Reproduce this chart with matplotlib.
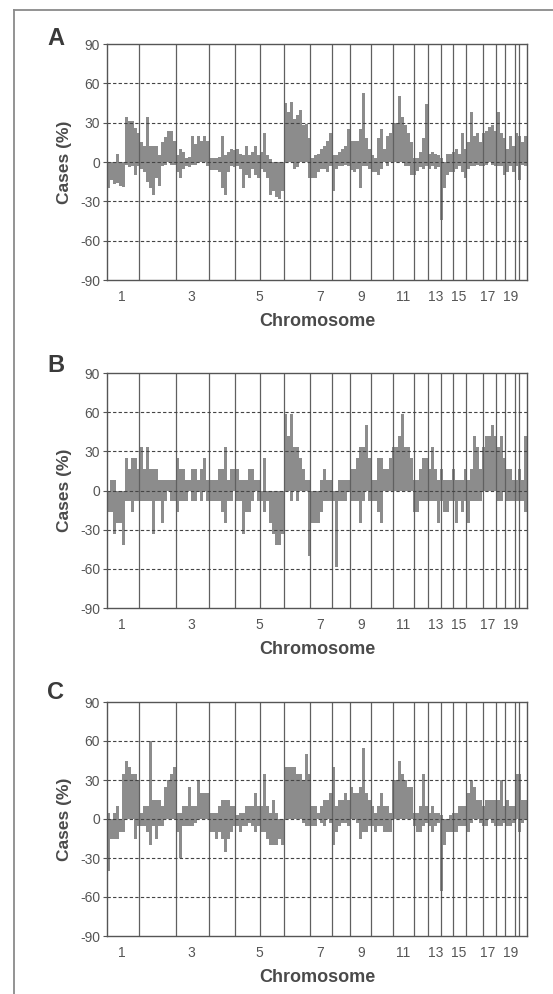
import numpy as np
import matplotlib
matplotlib.use("Agg")
import matplotlib.pyplot as plt
from matplotlib.lines import Line2D

plt.rcParams['font.family'] = ['Liberation Sans', 'DejaVu Sans']
plt.rcParams['axes.unicode_minus'] = False

# probe-bin index runs 0..140 along the genome
chrom_edges = [10.8, 22.9, 34.0, 42.6, 51.0, 59.1, 67.8, 75.0, 81.1, 87.9,
               95.3, 102.2, 107.0, 111.2, 115.4, 119.8, 125.2, 129.6, 132.7,
               136.1, 137.4]
tick_pos = [5.1, 28.2, 50.7, 71.0, 84.7, 98.7, 109.7, 117.3, 127.0, 134.7]
tick_labels = ['1', '3', '5', '7', '9', '11', '13', '15', '17', '19']

# panel A: % cases with gain / loss per bin
gain_a = [0, 0, 0, 6, 0, 0, 34, 31, 31, 26,
          22, 15, 12, 34, 12, 12, 12, 5, 15, 19,
          24, 24, 16, 5, 10, 8, 3, 4, 20, 14,
          20, 16, 20, 16, 3, 3, 3, 4, 20, 5,
          8, 10, 9, 10, 6, 5, 12, 5, 8, 12,
          5, 8, 22, 5, 2, 0, 0, 0, 0, 45,
          38, 46, 33, 36, 40, 28, 29, 18, 3, 5,
          6, 10, 12, 16, 22, 5, 5, 8, 10, 12,
          25, 16, 16, 16, 25, 53, 18, 10, 5, 3,
          18, 25, 10, 20, 22, 30, 30, 50, 34, 28,
          22, 15, 3, 3, 8, 18, 44, 6, 8, 6,
          5, 3, 0, 6, 6, 8, 10, 6, 22, 10,
          15, 38, 20, 22, 15, 22, 24, 27, 28, 24,
          38, 22, 18, 10, 20, 12, 22, 20, 15, 20]
loss_a = [-20, -14, -17, -16, -18, -19, -2, -4, -3, -10,
          -3, -5, -8, -15, -20, -25, -12, -18, -3, -2,
          0, -2, -2, -8, -12, -5, -3, -4, -2, -2,
          0, 0, 0, -3, -6, -6, -6, -8, -20, -25,
          -8, -3, -4, -3, -5, -20, -10, -12, -5, -10,
          -12, -5, -8, -12, -25, -22, -27, -28, -22, 0,
          0, 0, -5, -4, 0, 0, 0, -12, -12, -12,
          -8, -5, -5, -8, -3, -22, -5, -3, -3, -2,
          -3, -6, -8, -5, -20, -3, -3, -5, -8, -8,
          -10, -5, 0, -3, 0, 0, 0, 0, 0, -3,
          -3, -10, -10, -7, -4, -5, -3, -5, -3, -5,
          -4, -44, -20, -10, -8, -8, -5, -3, -8, -12,
          -5, -3, -3, -2, -3, -3, -2, 0, -2, -3,
          -3, -3, -10, -8, -3, -8, -3, -14, -2, -3]

# panel B
gain_b = [0, 8.3, 8.3, 0, 0, 0, 25, 16.7, 25, 25,
          16.7, 33.3, 16.7, 33.3, 16.7, 16.7, 16.7, 8.3, 8.3, 8.3,
          8.3, 8.3, 8.3, 25, 16.7, 16.7, 8.3, 8.3, 16.7, 16.7,
          8.3, 16.7, 25, 8.3, 8.3, 8.3, 8.3, 16.7, 16.7, 33.3,
          8.3, 16.7, 16.7, 16.7, 8.3, 8.3, 8.3, 16.7, 16.7, 8.3,
          8.3, 0, 25, 0, 0, 0, 0, 0, 0, 58.3,
          41.7, 58.3, 33.3, 33.3, 25, 16.7, 8.3, 8.3, 0, 0,
          0, 8.3, 16.7, 8.3, 8.3, 0, 0, 8.3, 8.3, 8.3,
          8.3, 16.7, 16.7, 25, 33.3, 33.3, 50, 25, 8.3, 8.3,
          25, 25, 16.7, 16.7, 25, 33.3, 33.3, 41.7, 58.3, 33.3,
          33.3, 25, 8.3, 8.3, 16.7, 25, 25, 16.7, 33.3, 16.7,
          8.3, 16.7, 8.3, 8.3, 8.3, 16.7, 8.3, 8.3, 8.3, 16.7,
          8.3, 16.7, 41.7, 33.3, 16.7, 33.3, 41.7, 41.7, 50, 41.7,
          33.3, 41.7, 25, 16.7, 16.7, 8.3, 8.3, 16.7, 8.3, 41.7]
loss_b = [-16.7, -16.7, -33.3, -25, -25, -41.7, -8.3, -8.3, -16.7, -8.3,
          -8.3, -8.3, -8.3, -8.3, -8.3, -33.3, -8.3, -8.3, -25, -8.3,
          0, -8.3, -8.3, -16.7, -8.3, -8.3, -8.3, 0, -8.3, -8.3,
          0, -8.3, 0, -8.3, -8.3, -8.3, -8.3, -8.3, -16.7, -25,
          -8.3, -8.3, 0, -8.3, -8.3, -33.3, -16.7, -16.7, -8.3, 0,
          -8.3, -8.3, -16.7, -8.3, -25, -33.3, -41.7, -41.7, -33.3, 0,
          0, -8.3, 0, -8.3, 0, 0, 0, -50, -25, -25,
          -25, -16.7, -8.3, -8.3, -8.3, -8.3, -58.3, -8.3, -8.3, -8.3,
          0, -8.3, -8.3, -8.3, -25, -8.3, 0, -8.3, -8.3, -8.3,
          -16.7, -25, 0, 0, 0, 0, 0, 0, 0, 0,
          0, 0, -16.7, -16.7, -8.3, -8.3, -8.3, -8.3, -8.3, -8.3,
          -25, -8.3, -16.7, -16.7, -8.3, -8.3, -25, -8.3, -16.7, -8.3,
          -25, -8.3, -8.3, -8.3, -8.3, 0, 0, 0, 0, 0,
          -8.3, -8.3, 0, -8.3, -8.3, -8.3, -8.3, -8.3, -8.3, -16.7]

# panel C
gain_c = [5, 0, 5, 10, 0, 35, 45, 40, 35, 35,
          30, 5, 10, 10, 60, 15, 15, 15, 10, 25,
          30, 35, 40, 5, 5, 10, 10, 25, 10, 10,
          30, 20, 20, 20, 5, 5, 5, 10, 15, 15,
          15, 10, 10, 3, 5, 5, 10, 10, 10, 20,
          10, 10, 35, 10, 5, 15, 5, 0, 0, 40,
          40, 40, 40, 35, 35, 30, 50, 35, 10, 10,
          5, 10, 15, 15, 20, 40, 10, 15, 15, 20,
          15, 25, 20, 20, 25, 55, 20, 15, 10, 5,
          10, 20, 10, 10, 5, 30, 30, 45, 35, 30,
          25, 25, 5, 5, 10, 35, 10, 5, 10, 5,
          5, 3, 0, 0, 3, 5, 5, 10, 10, 10,
          20, 30, 25, 15, 15, 10, 15, 15, 15, 15,
          15, 30, 10, 15, 10, 10, 35, 35, 15, 15]
loss_c = [-40, -15, -15, -15, -10, -10, 0, 0, 0, -15,
          -5, -5, -5, -10, -20, -5, -15, -5, -5, 0,
          0, 0, 0, -10, -30, -5, -5, -5, -5, -3,
          0, 0, 0, 0, -10, -10, -15, -10, -15, -25,
          -15, -10, -5, -5, -10, -5, -5, -3, -5, -10,
          -5, -10, -10, -15, -20, -20, -20, -15, -20, 0,
          0, 0, 0, 0, 0, -3, -5, -5, -5, -5,
          0, -3, -5, 0, -3, -20, -10, -5, -3, -3,
          -5, 0, 0, -3, -15, -10, -10, -5, -5, -10,
          -5, -5, -10, -10, -10, 0, 0, 0, 0, 0,
          0, 0, -5, -10, -10, -5, -3, -5, -10, -5,
          -3, -55, -20, -10, -10, -10, -10, -5, -5, -5,
          -10, -3, 0, 0, -3, -5, -5, 0, -3, -5,
          -5, -5, -3, -5, -5, -3, 0, -10, -3, 0]

panels = [('A', gain_a, loss_a, 44, 280, 27),
          ('B', gain_b, loss_b, 373, 608, 354),
          ('C', gain_c, loss_c, 702, 936, 681)]

W, H = 553, 994
fig = plt.figure(figsize=(W / 100, H / 100), dpi=100)

# outer frame (left + top edge only visible)
fig.add_artist(Line2D([14 / W, 14 / W], [0, 1 - 10 / H], transform=fig.transFigure,
                      color='#8a8a8a', lw=1.3))
fig.add_artist(Line2D([14 / W, 1], [1 - 10 / H, 1 - 10 / H], transform=fig.transFigure,
                      color='#8a8a8a', lw=1.3))

bar_col = '#8c8c8c'
line_col = '#555555'
txt_col = '#555555'

for letter, gains, losses, top, bot, ltop in panels:
    ax = fig.add_axes([107 / W, 1 - bot / H, 420 / W, (bot - top) / H])
    x = np.arange(len(gains)) + 0.5
    ax.bar(x, gains, width=1.0, color=bar_col, linewidth=0, zorder=1)
    ax.bar(x, losses, width=1.0, color=bar_col, linewidth=0, zorder=1)
    for e in chrom_edges:
        ax.axvline(e, color='#606060', lw=0.9, zorder=3)
    for yv in [-60, -30, 0, 30, 60]:
        ax.axhline(yv, color='#444444', lw=0.8, ls=(0, (3, 2)), zorder=3)
    ax.set_xlim(0, 140)
    ax.set_ylim(-90, 90)
    ax.set_yticks(range(-90, 91, 30))
    ax.set_xticks(tick_pos)
    ax.set_xticklabels(tick_labels)
    ax.tick_params(axis='x', length=0, pad=7, labelsize=10, labelcolor=txt_col)
    ax.tick_params(axis='y', length=3, width=0.8, color=line_col, pad=2,
                   labelsize=10, labelcolor=txt_col)
    for s in ax.spines.values():
        s.set_color(line_col)
        s.set_linewidth(1.0)
        s.set_zorder(4)
    ax.set_ylabel('Cases (%)', fontsize=12.5, fontweight='bold', color='#4a4a4a', labelpad=6)
    ax.set_xlabel('Chromosome', fontsize=13, fontweight='bold', color='#4a4a4a', labelpad=7)
    fig.text(47 / W, 1 - ltop / H, letter, fontsize=17, fontweight='bold',
             color='#3a3a3a', ha='left', va='top')

fig.savefig('out.png', dpi=100)
